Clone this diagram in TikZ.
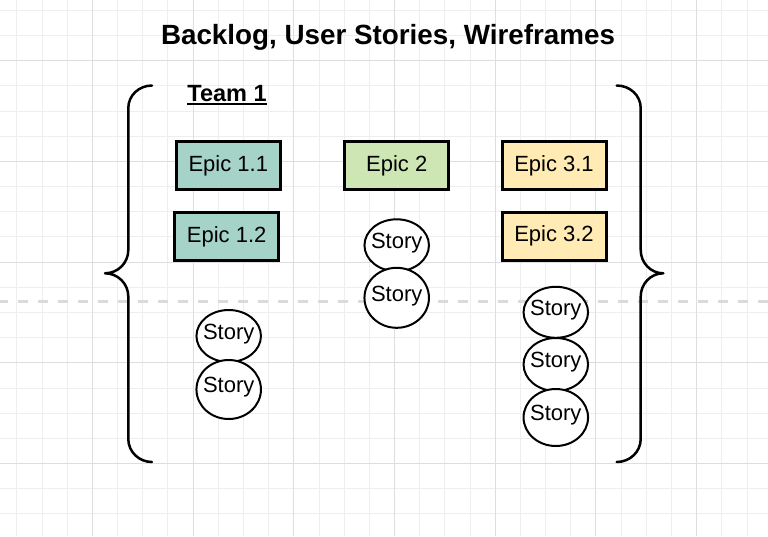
\documentclass[tikz,border=0pt]{standalone}
\usepackage{fontspec}
\setmainfont{Liberation Sans}
\usepgflibrary{shapes.geometric}
\usetikzlibrary{calc}
\definecolor{epicteal}{HTML}{A5D3C8}
\definecolor{epicgreen}{HTML}{CEE6B4}
\definecolor{epicyellow}{HTML}{FFEBB3}
\definecolor{gridminor}{HTML}{EEEEEE}
\definecolor{gridmajor}{HTML}{DEDEDE}
\definecolor{splitgray}{HTML}{DADADA}
\tikzset{
  epic/.style={draw, line width=3pt, minimum width=104pt, minimum height=48pt, inner sep=0pt},
  story/.style={draw, ellipse, fill=white, line width=2pt, minimum width=64.5pt, inner sep=0pt},
  brace/.style={line width=2.5pt, line cap=round, line join=round},
  splitline/.style={splitgray, line width=3pt, dash pattern=on 10pt off 10pt, dash phase=2.3pt}
}

\begin{document}
\begin{tikzpicture}[x=1pt,y=-1pt,font=\fontsize{22}{26}\selectfont]
\useasboundingbox (0,0) rectangle (768,536);
\foreach \i in {0,...,30} \draw[gridminor, line width=0.9pt] ({16.8+25.18*\i},0) -- ++(0,536);
\foreach \j in {0,...,20} \draw[gridminor, line width=0.9pt] (0,{10.3+25.18*\j}) -- ++(768,0);
\foreach \i in {0,...,6} \draw[gridmajor, line width=1pt] ({92.3+100.7*\i},0) -- ++(0,536);
\foreach \j in {0,...,4} \draw[gridmajor, line width=1pt] (0,{60.7+100.7*\j}) -- ++(768,0);
\coordinate (sl) at (0,301.7);
\coordinate (sr) at (768,301.7);
\draw[splitline] (sl) -- (sr);
\node[font=\bfseries\fontsize{27.8}{32}\selectfont] (title) at (388,37) {Backlog, User Stories, Wireframes};
\node[font=\bfseries\fontsize{23.5}{28}\selectfont, anchor=base, inner sep=0pt] (team) at (227,101.7) {Team 1};
\draw[line width=2pt] ([yshift=-2.4pt]team.base west) -- ([yshift=-2.4pt]team.base east); %underline
\draw[brace] (152,85.5) to[out=180,in=90] (128.3,108) -- (128.3,250) to[out=-90,in=0] (105,273.3) to[out=0,in=90] (128.3,296.5) -- (128.3,439) to[out=-90,in=180] (152,462); %left brace
\draw[brace] (616.7,85.5) to[out=0,in=90] (640.7,108) -- (640.7,250) to[out=-90,in=180] (663.3,273.3) to[out=180,in=90] (640.7,296.5) -- (640.7,439) to[out=-90,in=0] (616.7,462); %right brace
\node[epic, fill=epicteal] (e11) at (228.3,165.5) {Epic 1.1};
\node[epic, fill=epicteal] (e12) at (226.7,236.5) {Epic 1.2};
\node[epic, fill=epicgreen] (e2) at (396.7,165.8) {Epic 2};
\node[epic, fill=epicyellow] (e31) at (554,165.5) {Epic 3.1};
\node[epic, fill=epicyellow] (e32) at (554,236.3) {Epic 3.2};
\node[story, minimum height=52pt, label={[yshift=2pt]center:Story}] (s1a) at (228.7,336) {};
\node[story, minimum height=59pt, label={[yshift=2pt]center:Story}] (s1b) at (228.7,389.5) {};
\node[story, minimum height=52pt, label={[yshift=2pt]center:Story}] (s2a) at (396.7,245.3) {};
\node[story, minimum height=60pt, label={[yshift=2pt]center:Story}] (s2b) at (396.7,297.8) {};
\node[story, minimum height=51pt, label={[yshift=2pt]center:Story}] (s3a) at (555.8,312.3) {};
\node[story, minimum height=53pt, label={[yshift=2pt]center:Story}] (s3b) at (555.8,364.5) {};
\node[story, minimum height=57pt, label={[yshift=2pt]center:Story}] (s3c) at (555.8,417.5) {};
\end{tikzpicture}
\end{document}
